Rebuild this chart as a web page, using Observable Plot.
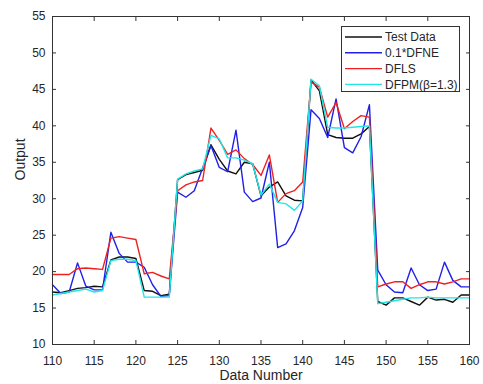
<!DOCTYPE html>
<html><head><meta charset="utf-8">
<script src="https://cdn.jsdelivr.net/npm/d3@7"></script>
<script src="https://cdn.jsdelivr.net/npm/@observablehq/plot@0.6"></script>
<style>
body{margin:0;background:#fff;font-family:"Liberation Sans",Arial,sans-serif;}
#wrap{position:relative;width:483px;height:384px;}
#legend{position:absolute;left:341px;top:26px;}
</style></head>
<body><div id="wrap"></div>
<script>
const xTicks = [110,115,120,125,130,135,140,145,150,155,160];
const yTicks = [10,15,20,25,30,35,40,45,50,55];
const dataNumber = d3.range(110, 161);
const seriesNames = ["Test Data", "0.1*DFNE", "DFLS", "DFPM(β=1.3)"];
const seriesColors = ["#111111", "#2020e8", "#f02020", "#20e6e6"];

const testData = [17.2,17.1,17.4,17.7,17.8,18.0,17.9,21.6,22.0,22.0,21.8,17.4,17.3,16.7,16.9,
  32.6,33.3,33.6,33.9,37.4,35.4,33.8,33.4,35.0,34.8,30.4,31.6,32.3,30.4,29.8,29.7,
  46.3,44.8,38.8,38.4,38.3,38.3,38.9,39.9,
  15.9,15.4,16.4,16.4,15.9,15.4,16.5,16.1,16.2,15.8,16.8,16.8];
const dfne = [18.2,17.0,17.2,21.2,18.0,17.5,17.5,25.4,22.5,21.3,21.3,20.6,18.2,16.6,16.7,
  30.9,30.2,31.1,34.2,37.3,34.3,33.7,39.4,30.9,29.6,30.1,35.0,23.3,23.8,25.6,28.8,
  42.2,41.0,38.4,43.7,37.0,36.3,38.5,42.9,
  20.2,18.2,17.2,17.1,20.5,18.2,17.4,17.6,21.3,18.8,17.9,17.9];
const dfls = [19.6,19.6,19.6,20.4,20.5,20.4,20.3,24.6,24.8,24.6,24.4,19.7,19.9,19.4,19.0,
  31.1,31.9,32.3,32.5,39.7,38.0,36.1,36.7,35.5,34.7,33.2,36.0,29.5,30.7,31.1,32.3,
  46.0,45.3,41.2,43.2,39.6,40.6,41.4,41.2,
  17.9,18.3,18.6,18.6,17.7,18.2,18.6,18.6,18.3,18.6,19.0,19.0];
const dfpm = [16.8,17.0,17.2,17.4,17.6,17.2,17.4,21.5,21.7,21.7,21.5,16.5,16.5,16.5,16.5,
  32.7,33.4,33.8,34.1,38.7,38.2,35.6,35.6,35.3,34.8,30.5,32.0,29.5,29.3,28.4,29.7,
  46.4,45.5,39.8,39.7,39.7,39.8,39.9,40.0,
  15.6,15.8,16.0,16.2,16.4,16.4,16.5,16.4,16.4,16.4,16.4,16.4];

const seriesValues = [testData, dfne, dfls, dfpm];
const rows = [];
seriesNames.forEach((s, i) => dataNumber.forEach((n, j) => rows.push({s, n, v: seriesValues[i][j]})));

const axisColor = "#333333";
const chart = Plot.plot({
  width: 483, height: 384,
  marginLeft: 52, marginRight: 14, marginTop: 16, marginBottom: 40,
  style: {fontFamily: "Liberation Sans, Arial, sans-serif", fontSize: "12px", color: "#262626", background: "white"},
  x: {domain: [110, 160]},
  y: {domain: [10, 55]},
  color: {domain: seriesNames, range: seriesColors},
  marks: [
    Plot.line(rows, {x: "n", y: "v", stroke: "s", z: "s", strokeWidth: 1.4}),
    Plot.frame({stroke: axisColor}),
    Plot.axisX({ticks: xTicks, tickSize: -4, tickPadding: 16, label: null, stroke: axisColor}),
    Plot.axisX({anchor: "top", ticks: xTicks, tickSize: -4, tickFormat: () => "", label: null, stroke: axisColor}),
    Plot.axisY({ticks: yTicks, tickSize: -4, tickPadding: 11, label: null, stroke: axisColor}),
    Plot.axisY({anchor: "right", ticks: yTicks, tickSize: -4, tickFormat: () => "", label: null, stroke: axisColor}),
    Plot.text(["Data Number"], {frameAnchor: "bottom", dy: 26, lineAnchor: "top", fontSize: 14, fill: "#262626"}),
    Plot.text(["Output"], {frameAnchor: "left", dx: -32, rotate: -90, fontSize: 14, fill: "#262626"})
  ]
});
const wrap = document.getElementById("wrap");
wrap.appendChild(chart);

// legend
const lg = d3.select(wrap).append("svg").attr("id", "legend").attr("width", 120).attr("height", 67);
lg.append("rect").attr("x", 0.5).attr("y", 0.5).attr("width", 118).attr("height", 65).attr("fill", "white").attr("stroke", axisColor);
seriesNames.forEach((s, i) => {
  const cy = 11 + i * 15.8;
  lg.append("line").attr("x1", 4).attr("x2", 41).attr("y1", cy).attr("y2", cy).attr("stroke", seriesColors[i]).attr("stroke-width", 1.4);
  lg.append("text").attr("x", 44).attr("y", cy).attr("dy", "0.35em").attr("font-size", 12).attr("fill", "#262626")
    .attr("font-family", "Liberation Sans, Arial, sans-serif").text(s);
});
</script></body></html>
